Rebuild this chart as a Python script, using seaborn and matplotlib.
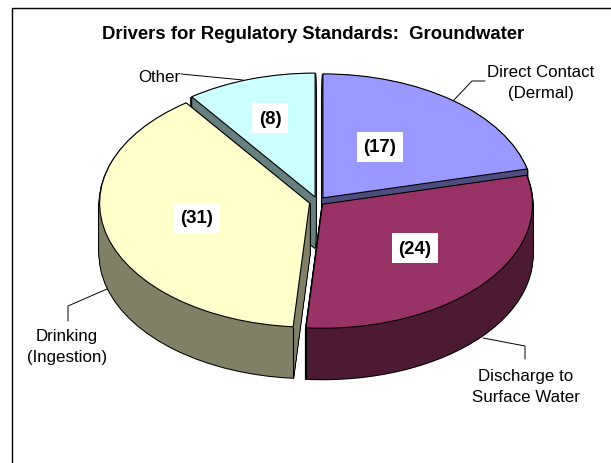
import numpy as np
import matplotlib
matplotlib.use("Agg")
import matplotlib.pyplot as plt
import seaborn as sns

# Data
categories = ["Direct Contact\n(Dermal)", "Discharge to\nSurface Water", "Drinking\n(Ingestion)", "Other"]
values = [17, 24, 31, 8]
top_colors = ["#9999FF", "#993366", "#FFFFCC", "#CCFFFF"]
wall_colors = ["#4D4D80", "#4D1A33", "#808066", "#668080"]
title = "Drivers for Regulatory Standards:  Groundwater"

sns.set_theme(style="white")
plt.rcParams["font.family"] = ["Liberation Sans", "DejaVu Sans"]
top_palette = sns.color_palette(top_colors)
wall_palette = sns.color_palette(wall_colors)

W, H = 611, 464
fig = plt.figure(figsize=(W / 100, H / 100), dpi=100, facecolor="white")

# pie axes: one data unit is the ellipse radius in each direction
RX, RY = 210.0, 124.0
DEPTH = 51
CX, CY = 317.7, 202.8
ax = fig.add_axes([0, 0, 1, 1])
rank = [1, 3, 2, 0]  # paint order per slice: back slices first
explode = [0.04, 0.03, 0.04, 0.04]


def pie_layer(dy_px, colors, edge, lw, z):
    wedges, _ = ax.pie(values, colors=colors, explode=explode, startangle=90,
                       counterclock=False, radius=1,
                       center=(CX / RX, (H - CY - dy_px) / RY),
                       wedgeprops=dict(edgecolor=edge, linewidth=lw))
    for w, r in zip(wedges, rank):
        w.set_zorder(r * 10 + z)
    return wedges


for dy in range(1, DEPTH + 1):
    pie_layer(dy, ["black"] * 4, "black", 1.5, 1)
for dy in range(1, DEPTH + 1):
    pie_layer(dy, wall_palette, "none", 0, 2)
tops = pie_layer(0, top_palette, "black", 0.8, 3)

# crease lines where a slice's cut wall meets its round wall
for w, r in zip(tops, rank):
    for th in (w.theta1, w.theta2):
        a = np.deg2rad(th)
        x = w.center[0] + np.cos(a)
        y = w.center[1] + np.sin(a)
        if np.sin(a) < 0:
            ax.plot([x, x], [y, y - DEPTH / RY], color="black", lw=0.8,
                    zorder=r * 10 + 2.5, solid_capstyle="butt")

ax.set_aspect("auto")
ax.set_xlim(0, W / RX)
ax.set_ylim(0, H / RY)
ax.axis("off")

# overlay in pixel space for frame, leaders and text
ov = fig.add_axes([0, 0, 1, 1], facecolor="none")
ov.set_xlim(0, W)
ov.set_ylim(H, 0)
ov.axis("off")
ov.plot([11.5, 11.5, W], [H, 8.5, 8.5], color="black", lw=1.0, zorder=1)

ov.text(313.5, 34.5, title, ha="center", va="center", fontsize=13.3, fontweight="bold", color="black")

leaders = {
    0: ([453, 472, 485], [102, 82, 82]),
    1: ([483, 525, 525], [339, 347, 360]),
    2: ([107, 68, 68], [290, 307, 322]),
    3: ([181, 243], [75, 81]),
}
for i, (lx, ly) in leaders.items():
    ov.plot(lx, ly, color="black", lw=0.7, zorder=2)

name_pos = [(541, 83), (526, 387), (67, 347), (159, 77)]
for name, (nx, ny) in zip(categories, name_pos):
    ov.text(nx, ny, name, ha="center", va="center", fontsize=12.2, color="black",
            linespacing=1.45)

value_pos = [(380, 148), (415, 249), (197, 219), (270, 119)]
for v, (vx, vy) in zip(values, value_pos):
    ov.text(vx, vy, f"({v})", ha="center", va="center", fontsize=13.4, fontweight="bold",
            color="black", bbox=dict(facecolor="white", edgecolor="none", pad=4.5))

fig.savefig("out.png", dpi=100, facecolor="white")
